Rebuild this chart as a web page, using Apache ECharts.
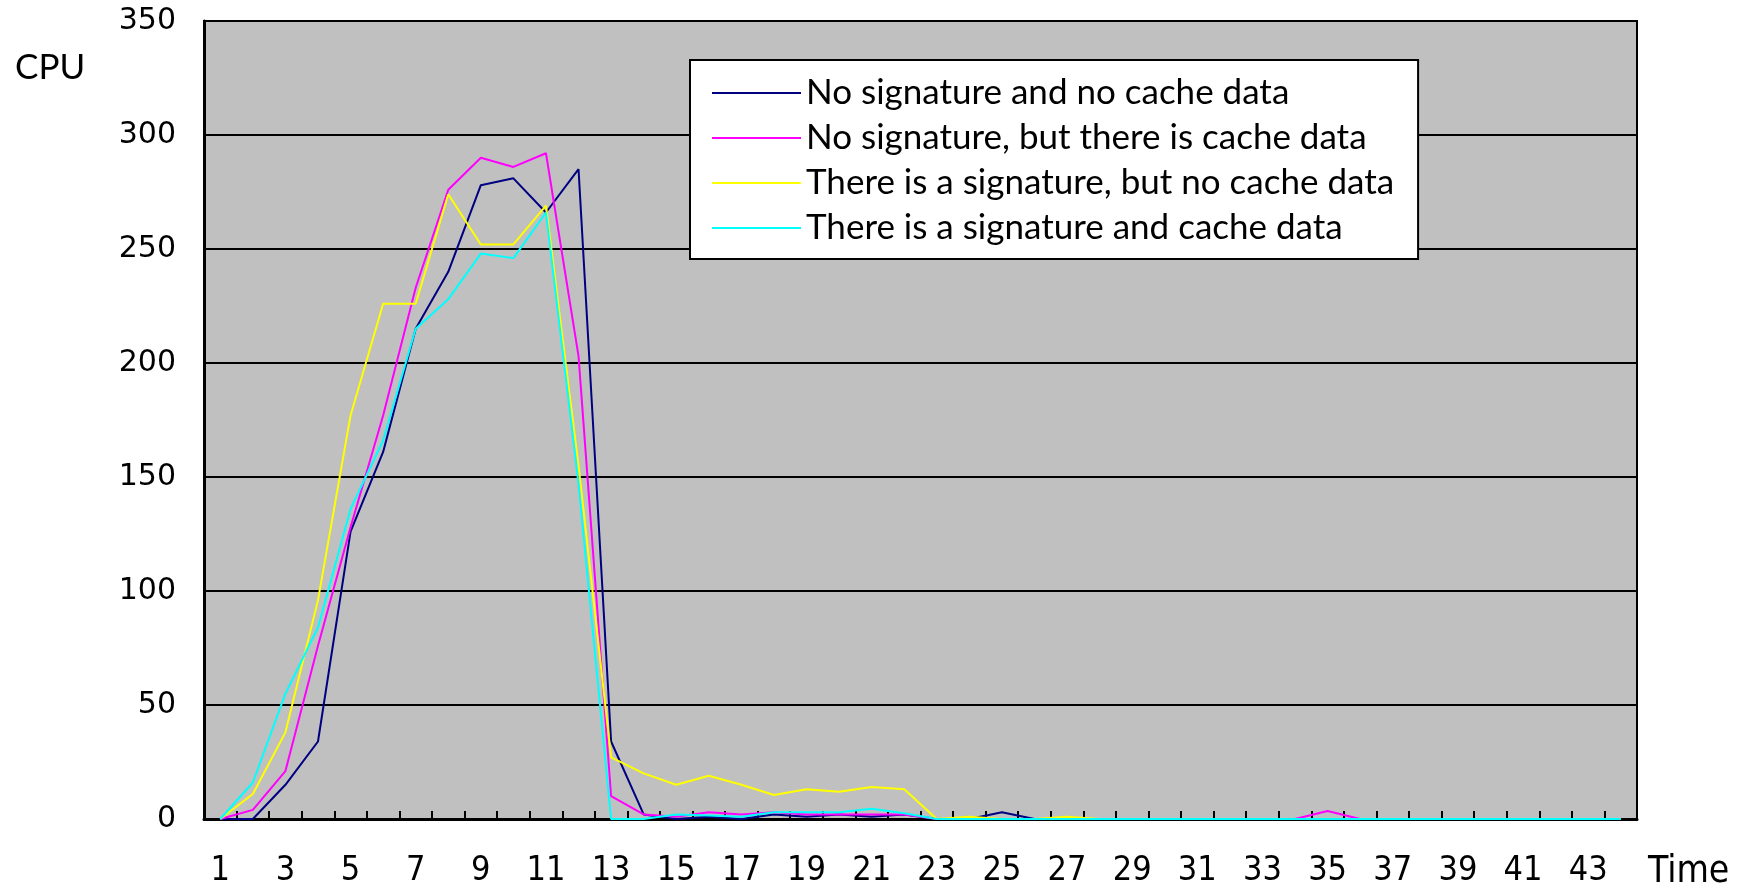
<!DOCTYPE html>
<html>
<head>
<meta charset="utf-8">
<title>CPU</title>
<script src="https://cdn.jsdelivr.net/npm/echarts@6/dist/echarts.min.js"></script>
<style type="text/css">
    *{
        padding: 0;
        margin: 0;
    }
    body{
        background: #fff;
        overflow: hidden;
    }
    .chart{
        width: 1750px;
        height: 887px;
    }
</style>
</head>
<body>
<div class="chart" id="chart1"></div>
<script type="text/javascript">
    // time steps 1..44
    let timeSteps = [];
    for (let i = 1; i <= 44; i++) timeSteps.push(String(i));

    let seriesNames = [
        'No signature and no cache data',
        'No signature, but there is cache data',
        'There is a signature, but no cache data',
        'There is a signature and cache data'
    ];
    let seriesColors = ['#000080', '#FF00FF', '#FFFF00', '#00FFFF'];

    // values
    let noSigNoCache = [0, 0, 15, 34, 126, 161, 215, 240, 278, 281, 266, 285, 34, 2, 0, 1, 0, 2, 1, 2, 1, 2,
        0, 0, 3, 0, 0, 0, 0, 0, 0, 0, 0, 0, 0, 0, 0, 0, 0, 0, 0, 0, 0, 0];
    let noSigCache = [0, 4, 21, 76, 128, 177, 233, 276, 290, 286, 292, 203, 10, 2, 1, 3, 2, 3, 2, 2, 2, 2,
        0, 0, 0, 0, 0, 0, 0, 0, 0, 0, 0, 0, 3.5, 0, 0, 0, 0, 0, 0, 0, 0, 0];
    let sigNoCache = [0, 11, 38, 96, 177, 226, 226, 274, 252, 252, 269, 155, 27, 20, 15, 19, 15, 10.5, 13, 12, 14, 13,
        0, 1, 0, 0, 1, 0, 0, 0, 0, 0, 0, 0, 0, 0, 0, 0, 0, 0, 0, 0, 0, 0];
    let sigCache = [0, 16, 55, 84, 136, 166, 215, 228, 248, 246, 266, 147, 0, 0, 2, 1.5, 1, 3, 3, 3, 4.5, 2.5,
        0, 0, 0, 0, 0, 0, 0, 0, 0, 0, 0, 0, 0, 0, 0, 0, 0, 0, 0, 0, 0, 0];

    let yTicks = [0, 50, 100, 150, 200, 250, 300, 350];

    let allValues = [noSigNoCache, noSigCache, sigNoCache, sigCache];

    let narrowFont = '"Liberation Sans Narrow", "DejaVu Sans Condensed", sans-serif';

    let myChart = echarts.init(document.getElementById('chart1'), null, {renderer: 'canvas'});
    let option = {
        animation: false,
        color: seriesColors,
        grid: {
            left: 204,
            right: 113,
            top: 21,
            bottom: 68,
            outerBoundsMode: 'none',   // keep the plot box where it is
            show: true,
            backgroundColor: '#C0C0C0',
            borderColor: '#000',
            borderWidth: 2
        },
        legend: {
            orient: 'vertical',
            left: 690,
            top: 60,
            data: seriesNames,
            backgroundColor: '#fff',
            borderColor: '#000',
            borderWidth: 2,
            padding: [14, 24, 12, 21],
            itemWidth: 89,
            itemHeight: 14,
            itemGap: 7,
            itemTextGap: 15,
            itemStyle: {opacity: 0},   // line only, no dot
            textStyle: {
                fontFamily: 'Lato, "Open Sans", sans-serif',
                fontSize: 35,
                lineHeight: 38,
                color: '#000'
            }
        },
        xAxis: {
            type: 'category',
            data: timeSteps,
            boundaryGap: true,
            axisLine: {lineStyle: {color: '#000', width: 3}},
            axisTick: {show: true, inside: true, length: 8, interval: 0, lineStyle: {color: '#000', width: 2}},
            axisLabel: {
                interval: 1,
                margin: 35,
                fontFamily: narrowFont,
                fontSize: 34,
                color: '#000'
            },
            splitLine: {show: false}
        },
        yAxis: {
            type: 'value',
            min: yTicks[0],
            max: yTicks[yTicks.length - 1],
            interval: 50,
            axisLine: {show: true, lineStyle: {color: '#000', width: 3}},
            axisTick: {show: true, inside: true, length: 10, lineStyle: {color: '#000', width: 2}},
            axisLabel: {
                margin: 28,
                padding: [4, 0, 0, 0],
                fontFamily: '"DejaVu Sans", sans-serif',
                fontSize: 30,
                color: '#000'
            },
            splitLine: {lineStyle: {color: '#000', width: 2}}
        },
        graphic: [
            {
                type: 'text',
                left: 15,
                top: 50,
                style: {text: 'CPU', font: '35px Lato, "Open Sans", sans-serif', fill: '#000'}
            },
            {
                type: 'text',
                left: 1648,
                top: 854,
                style: {text: 'Time', font: '37px ' + narrowFont, fill: '#000'}
            }
        ],
        series: seriesNames.map(function (name, idx) {
            return {
                name: name,
                type: 'line',
                data: allValues[idx],
                symbol: 'none',
                lineStyle: {width: 2, color: seriesColors[idx]}
            };
        })
    };
    myChart.setOption(option);
</script>
</body>
</html>
